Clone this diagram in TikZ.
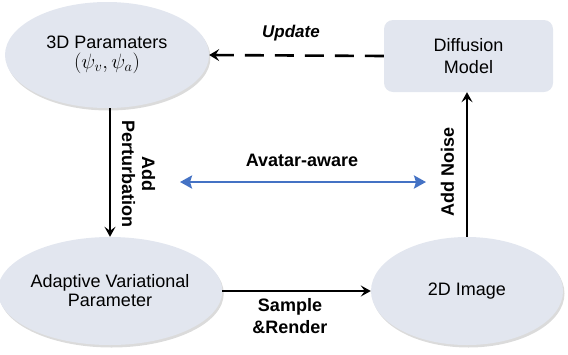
\documentclass[tikz,border=0pt]{standalone}
\usepackage{fontspec}
\setmainfont{Liberation Sans}
\usetikzlibrary{arrows.meta,shadows,shapes.geometric}
\definecolor{nodefill}{HTML}{E2E6EF}
\definecolor{avblue}{HTML}{4472C4}
\tikzset{
  ell/.style={ellipse, fill=nodefill, draw=none, inner sep=0pt,
    drop shadow={shadow xshift=1.5pt, shadow yshift=-2.5pt, opacity=0.35, fill=gray!80},
    align=center, font=\fontsize{18}{19}\selectfont},
  rbox/.style={rectangle, rounded corners=9pt, fill=nodefill, draw=none, align=center,
    font=\fontsize{18}{22}\selectfont},
  conn/.style={line width=1.9pt, -{Stealth[length=10pt,width=11pt,inset=4pt]}},
  lbl/.style={font=\bfseries\fontsize{18}{20}\selectfont, align=center, inner sep=0pt}
}
\begin{document}
\begin{tikzpicture}[x=1pt,y=-1pt]
\useasboundingbox (0,0) rectangle (568,354);
\node[ell, minimum width=204pt, minimum height=106pt] (p3d) at (107,55)
  {3D Paramaters\\[1pt]{\fontsize{22}{22}\selectfont$(\psi_v,\psi_a)$}};
\node[rbox, minimum width=169pt, minimum height=72pt] (diff) at (468.5,56) {Diffusion\\Model};
\node[ell, minimum width=196pt, minimum height=108pt] (avp) at (110,291) {Adaptive Variational\\Parameter};
\node[ell, minimum width=192pt, minimum height=108pt] (img) at (467,291) {2D Image};

\coordinate (pt) at (110,0);
\draw[conn] (p3d.south -| pt) -- (avp.north -| pt);
\coordinate (nt) at (467,0);
\draw[conn] (img.north -| nt) -- (diff.south -| nt);
\draw[conn] (avp.east) -- (img.west);
\draw[line width=2.6pt, dash pattern=on 19pt off 11pt,
  -{Stealth[length=10pt,width=12pt,inset=4pt]}] (diff.west) -- (p3d.east);

\coordinate (aL) at (180,182);
\coordinate (aR) at (426,182);
\draw[avblue, line width=2.6pt, {Stealth[length=12pt,width=13pt,inset=2pt]}-{Stealth[length=12pt,width=13pt,inset=2pt]}] (aL) -- (aR);

\node[lbl] (aa) at (302,160) {Avatar-aware};
\node[lbl, font=\bfseries\itshape\fontsize{17}{20}\selectfont] (up) at (291,33) {Update};
\node[lbl, rotate=-90] (ap) at (138.5,174) {Add\\Perturbation};
\node[lbl, rotate=90] (an) at (447.5,172) {Add Noise};
\node[lbl, font=\bfseries\fontsize{18}{22}\selectfont] (sr) at (290,316) {Sample\\\&Render};
\end{tikzpicture}
\end{document}
